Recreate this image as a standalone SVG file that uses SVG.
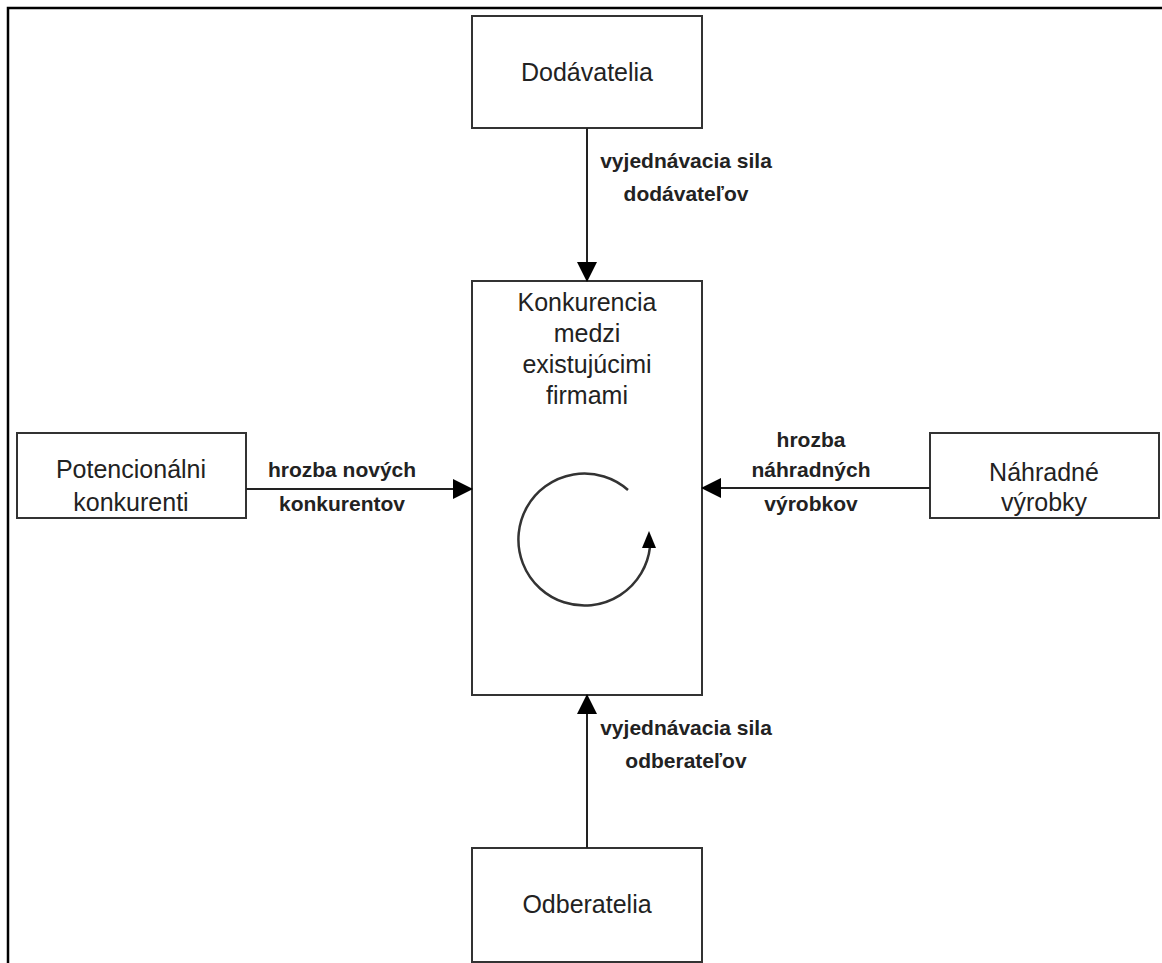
<svg xmlns="http://www.w3.org/2000/svg" width="1162" height="963" viewBox="0 0 1162 963">
<style>
.box{fill:#fff;stroke:#333;stroke-width:2}
.t{font-family:"Liberation Sans",Arial,sans-serif;font-size:25px;fill:#222;text-anchor:middle}
.l{font-family:"Liberation Sans",Arial,sans-serif;font-size:21px;font-weight:bold;fill:#222;text-anchor:middle}
.c{stroke:#222;stroke-width:2;fill:none}
</style>
<defs>
<marker id="ah" markerUnits="userSpaceOnUse" markerWidth="20" markerHeight="20" viewBox="0 0 20 20" refX="19" refY="10" orient="auto">
<path d="M0,0 L20,10 L0,20 Z" fill="#000"/>
</marker>
</defs>
<rect width="1162" height="963" fill="#fff"/>
<path d="M8,963 V8 H1162" fill="none" stroke="#000" stroke-width="2.5"/>
<g id="dodavatelia">
<rect class="box" x="472" y="16" width="230" height="112"/>
<text class="t" x="587" y="81">Dodávatelia</text>
</g>
<g id="konkurencia">
<rect class="box" x="472" y="281" width="230" height="414"/>
<text class="t" x="587" y="311">Konkurencia</text>
<text class="t" x="587" y="342">medzi</text>
<text class="t" x="587" y="373">existujúcimi</text>
<text class="t" x="587" y="404">firmami</text>
<path d="M628,490 A66,66 0 1 0 650,547" fill="none" stroke="#333" stroke-width="2.5"/>
<path d="M649,531 L656,548 L642,548 Z" fill="#000"/>
</g>
<g id="potencionalni">
<rect class="box" x="17" y="433" width="229" height="85"/>
<text class="t" x="131" y="478">Potencionálni</text>
<text class="t" x="131" y="511">konkurenti</text>
</g>
<g id="nahradne">
<rect class="box" x="930" y="433" width="229" height="85"/>
<text class="t" x="1044" y="481">Náhradné</text>
<text class="t" x="1044" y="511">výrobky</text>
</g>
<g id="odberatelia">
<rect class="box" x="472" y="848" width="230" height="114"/>
<text class="t" x="587" y="913">Odberatelia</text>
</g>
<g id="connectors">
<line class="c" x1="587" y1="128" x2="587" y2="281" marker-end="url(#ah)"/>
<line class="c" x1="587" y1="848" x2="587" y2="695" marker-end="url(#ah)"/>
<line class="c" x1="246" y1="489" x2="472" y2="489" marker-end="url(#ah)"/>
<line class="c" x1="930" y1="488" x2="702" y2="488" marker-end="url(#ah)"/>
<text class="l" x="686" y="168">vyjednávacia sila</text>
<text class="l" x="686" y="201">dodávateľov</text>
<text class="l" x="686" y="735">vyjednávacia sila</text>
<text class="l" x="686" y="768">odberateľov</text>
<text class="l" x="342" y="477">hrozba nových</text>
<text class="l" x="342" y="511">konkurentov</text>
<text class="l" x="811" y="447">hrozba</text>
<text class="l" x="811" y="477">náhradných</text>
<text class="l" x="811" y="511">výrobkov</text>
</g>
</svg>
